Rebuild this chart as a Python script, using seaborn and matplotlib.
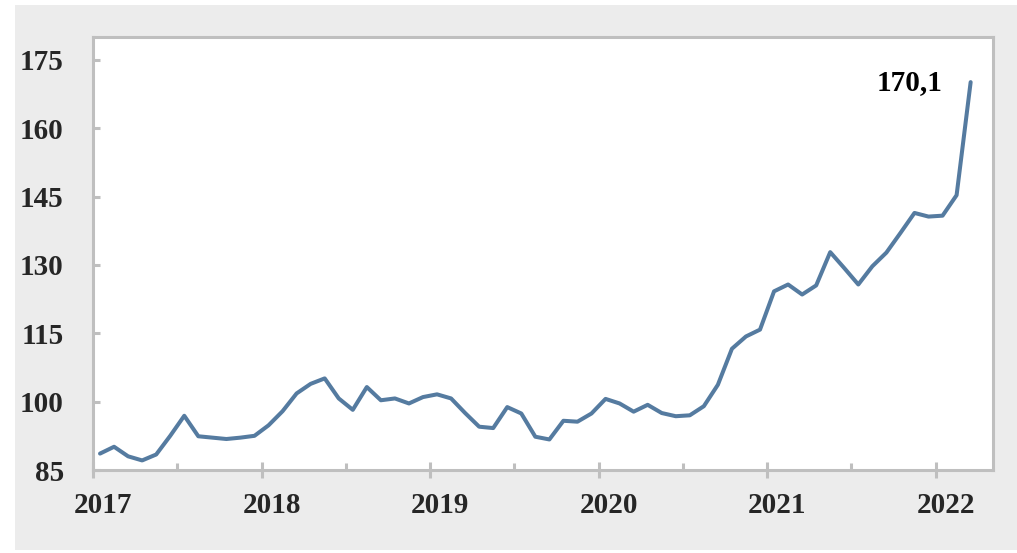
import numpy as np
import pandas as pd
import seaborn as sns
import matplotlib.pyplot as plt
from matplotlib.patches import Rectangle
from matplotlib.transforms import ScaledTranslation

# monthly index, Jan 2017 .. Mar 2022
start_month = "2017-01"
values = [88.6, 90.1, 88.0, 87.1, 88.4, 92.5, 96.9, 92.4, 92.1, 91.8, 92.1, 92.5,
          94.8, 97.9, 101.8, 103.9, 105.1, 100.7, 98.2, 103.2, 100.3, 100.7, 99.6, 101.0,
          101.6, 100.7, 97.5, 94.5, 94.2, 98.8, 97.4, 92.3, 91.7, 95.8, 95.6, 97.4,
          100.6, 99.6, 97.8, 99.3, 97.5, 96.8, 97.0, 99.0, 103.7, 111.6, 114.3, 115.8,
          124.2, 125.7, 123.5, 125.5, 132.8, 129.3, 125.7, 129.7, 132.7, 137.0, 141.4, 140.6,
          140.8, 145.3, 170.1]
year_ticks = [2017, 2018, 2019, 2020, 2021, 2022]
y_ticks = [85, 100, 115, 130, 145, 160, 175]

dates = pd.date_range(start_month, periods=len(values), freq="MS")
df = pd.DataFrame({"fecha": dates, "valor": values})
# decimal year, point drawn mid-month
df["x"] = df["fecha"].dt.year + (df["fecha"].dt.month - 0.5) / 12

sns.set_style("white")
plt.rcParams['font.family'] = ['Liberation Serif', 'DejaVu Serif']
plt.rcParams['font.weight'] = 'bold'

grey = "#bfbfbf"
fs = 21
fig = plt.figure(figsize=(10.17, 5.53), dpi=100, facecolor="white")
fig.patches.append(Rectangle((15 / 1017, 3 / 553), 1 - 15 / 1017, 1 - 8 / 553,
                             transform=fig.transFigure, facecolor="#ececec",
                             edgecolor="none", zorder=-10))
ax = fig.add_axes([93 / 1017, 1 - 470 / 553, 900 / 1017, 433 / 553])
ax.set_facecolor("white")

sns.lineplot(data=df, x="x", y="valor", ax=ax, color="#557ba0", linewidth=2.9)

ax.set_xlim(2017, 2022.341)
ax.set_ylim(85, 180)
ax.set_xlabel("")
ax.set_ylabel("")

ax.set_yticks(y_ticks)
ax.set_yticklabels([str(v) for v in y_ticks])
ax.set_xticks(year_ticks)
ax.set_xticklabels([str(v) for v in year_ticks])
ax.set_xticks([y + 0.5 for y in year_ticks[:-1]], minor=True)

for s in ax.spines.values():
    s.set_color(grey)
    s.set_linewidth(2.2)

ax.tick_params(axis="y", direction="in", length=5, width=2.2, color=grey,
               labelsize=fs, pad=21, left=True)
ax.tick_params(axis="x", which="major", direction="inout", length=11.5, width=2.2,
               color=grey, labelsize=fs, pad=10, bottom=True)
ax.tick_params(axis="x", which="minor", direction="in", length=5, width=2.2,
               color=grey, bottom=True)

shift = ScaledTranslation(10 / 100, 0, fig.dpi_scale_trans)
for lab in ax.get_xticklabels():
    lab.set_transform(lab.get_transform() + shift)
for lab in ax.get_xticklabels() + ax.get_yticklabels():
    lab.set_fontweight("bold")

last = df.iloc[-1]
ax.annotate(f"{last['valor']:.1f}".replace(".", ","), xy=(last["x"], last["valor"]),
            xytext=(-20, 0), textcoords="offset points", ha="right", va="center",
            fontsize=fs, fontweight="bold", color="black")

fig.savefig("out.png", dpi=100)
